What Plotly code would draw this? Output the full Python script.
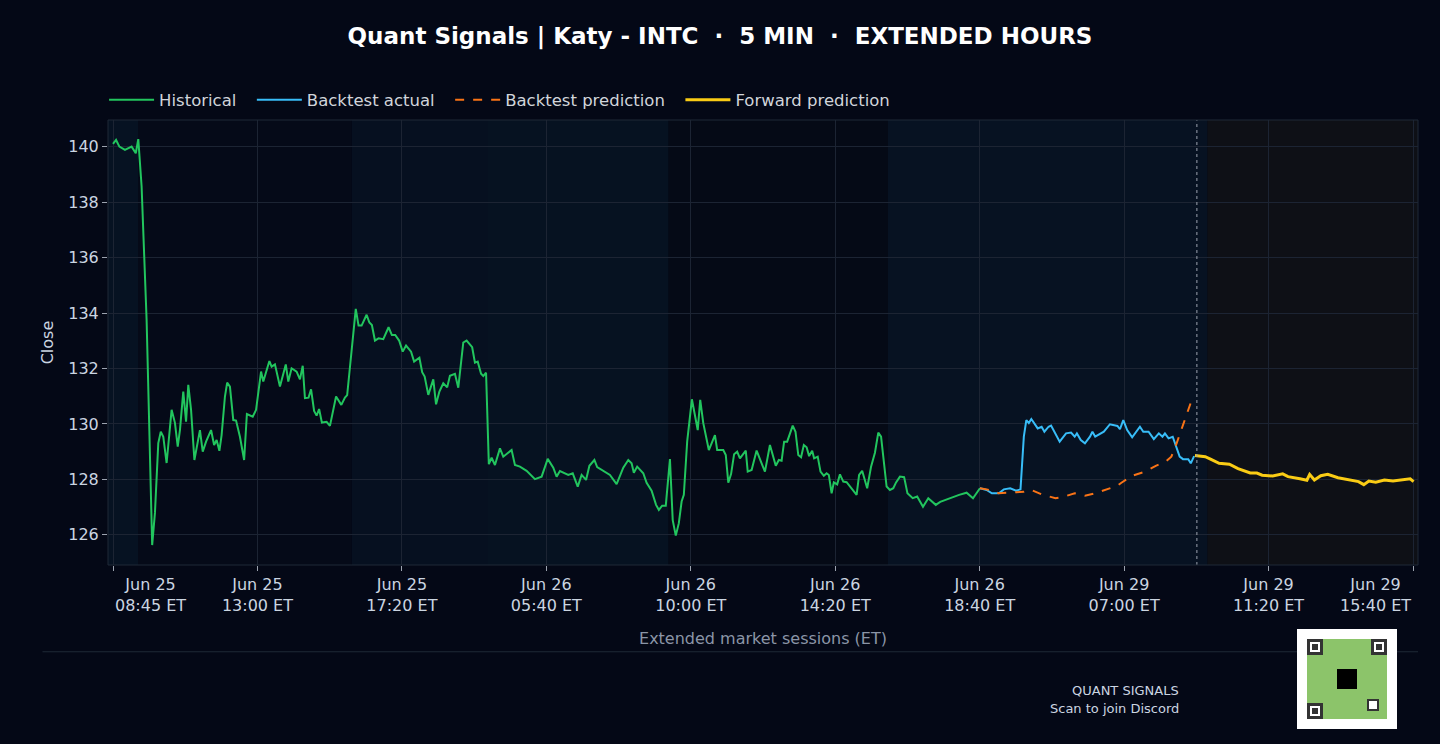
import plotly.graph_objects as go

# ---- data (bar index, close) ----
hist_x = [0,1.1,2.3,4.3,6.7,8.2,9.1,10.3,12.1,14.1,15.1,16.3,17.2,18.1,19.3,21.1,22.3,23.3,24.1,25.3,26.3,27.1,28.1,29.3,31.3,32.3,33.5,35.3,36.4,37.3,38.3,39.1,40.3,41.1,42.1,43.3,44.3,45.7,47.2,48.2,50.3,51.5,53.3,54.1,56.3,57.1,58.3,60.1,62.2,63.1,64.3,66.1,67.3,68.3,69.1,70.4,71.3,72.4,73.3,74.2,75.2,76.9,78.1,80.3,82.2,83.5,84.3,85.9,87.4,88.4,89.5,91.3,92.3,93.2,94.3,95.6,97.3,99.2,100.4,101.6,103.0,104.3,105.5,107.3,108.4,110.3,111.3,112.2,113.5,115.3,116.3,117.5,118.9,120.3,121.3,123.1,124.3,126.1,127.3,129.3,130.3,131.3,132.5,133.3,134.3,135.3,136.3,137.5,139.3,140.5,143.5,144.7,146.5,148.9,151.9,154.3,156.5,158.5,159.7,160.9,163.9,165.5,167.3,168.7,170.3,171.5,173.3,174.3,177.1,178.9,181.3,183.7,185.5,186.7,187.5,188.7,190.9,192.1,193.9,195.5,196.5,197.7,199.0,200.5,201.5,202.6,203.7,204.7,205.5,206.7,208.4,210.5,211.4,212.5,214.5,216.7,217.5,219.7,220.6,221.5,222.5,223.6,224.7,225.7,227.8,228.5,229.9,231.7,233.5,234.7,236.5,238.6,239.7,240.7,241.6,242.7,244.7,245.7,246.7,247.7,248.7,249.7,250.6,251.7,252.4,253.7,254.7,255.9,256.9,257.7,258.7,259.5,260.7,261.7,262.9,264.1,267.7,268.6,269.7,271.5,272.9,274.3,275.5,276.5,278.5,279.7,280.9,281.9,283.3,284.8,286.0,287.9,289.5,291.6,293.5,296.2,297.8,299.6,302.7,304.6,307.3,309.6,312.1]
hist_y = [140.11,140.25,140.01,139.89,140.01,139.77,140.28,138.57,133.75,125.63,126.79,129.31,129.72,129.54,128.59,130.51,130.04,129.18,129.78,131.17,130.08,131.41,130.51,128.70,129.78,129.00,129.36,129.78,129.24,129.42,129.03,129.60,130.99,131.49,131.35,130.14,130.12,129.54,128.70,130.36,130.26,130.51,131.89,131.53,132.27,132.07,132.15,131.35,132.15,131.53,132.01,131.89,131.61,132.10,130.93,130.95,131.25,130.47,130.30,130.54,130.05,130.08,129.93,130.99,130.69,130.95,131.04,132.67,134.15,133.55,133.55,133.94,133.66,133.57,133.01,133.09,133.06,133.49,133.21,133.21,133.01,132.61,132.83,132.61,132.25,132.39,131.87,131.71,131.05,131.61,130.71,131.17,131.47,131.32,131.74,131.81,131.31,132.94,133.01,132.77,132.21,132.25,131.81,131.73,131.85,128.55,128.78,128.52,129.12,128.82,129.06,128.52,128.46,128.31,128.01,128.10,128.74,128.42,128.10,128.30,128.16,128.22,127.74,128.16,127.98,128.49,128.70,128.44,128.28,128.16,127.83,128.42,128.70,128.58,128.24,128.46,128.22,127.88,127.59,127.08,126.90,127.05,127.05,128.73,126.53,125.97,126.42,127.20,127.44,129.36,130.89,129.78,130.87,130.03,129.06,129.60,129.06,129.06,128.88,127.88,128.19,128.91,129.00,128.76,129.04,128.28,128.34,129.04,128.58,128.28,129.24,128.49,128.70,128.67,129.36,129.36,129.94,129.72,128.88,128.80,129.24,129.16,128.84,129.03,128.76,128.82,128.28,128.13,128.22,128.16,127.50,127.89,127.82,128.18,127.92,127.90,127.44,128.16,128.31,127.68,128.46,128.96,129.69,129.54,127.74,127.62,127.68,127.89,128.10,128.08,127.50,127.32,127.38,127.01,127.32,127.08,127.19,127.26,127.38,127.44,127.52,127.32,127.68]

bt_x = [312.1,314.5,316.4,318.9,320.7,323.0,325.1,326.7,327.9,328.8,329.7,330.6,332.9,334.3,335.3,336.8,337.7,339.3,340.8,343.1,344.9,346.2,347.0,348.4,349.9,351.7,352.6,353.6,356.7,358.9,361.6,362.5,363.7,365.1,366.9,369.7,370.9,372.8,374.7,376.5,377.8,378.7,380.0,381.5,382.7,384.0,385.2,387.1,388.0,389.2]
bt_y = [127.68,127.62,127.50,127.50,127.64,127.68,127.59,127.64,129.54,130.14,130.03,130.18,129.84,129.90,129.72,129.90,129.94,129.66,129.36,129.66,129.69,129.54,129.66,129.42,129.30,129.54,129.72,129.54,129.72,129.99,129.93,129.81,130.14,129.78,129.52,129.90,129.72,129.72,129.45,129.66,129.54,129.66,129.48,129.54,129.18,128.82,128.73,128.73,128.58,128.84]

pred_x = [312.1,314.5,318.9,323.7,327.8,330.6,334.3,339.3,342.5,346.2,349.9,353.6,357.4,361.6,362.9,366.9,371.8,375.4,379.1,381.0,382.9,384.1,386.0,387.9]
pred_y = [127.68,127.64,127.50,127.52,127.55,127.62,127.46,127.32,127.38,127.50,127.41,127.50,127.62,127.77,127.87,128.13,128.29,128.49,128.65,128.82,129.30,129.66,130.20,130.74]

fwd_x = [389.5,393.2,395.1,398.2,401.9,405.0,409.4,411.8,413.7,417.5,421.1,423.0,427.3,429.8,430.8,432.5,434.8,437.3,441.0,444.7,448.4,450.3,452.1,454.6,457.7,460.8,463.3,467.0,468.2]
fwd_y = [128.86,128.82,128.73,128.58,128.55,128.39,128.23,128.23,128.15,128.12,128.20,128.10,128.02,127.97,128.18,127.98,128.13,128.18,128.06,127.98,127.92,127.81,127.94,127.90,127.98,127.94,127.98,128.02,127.92]

tick_pos = [0, 52, 104, 156, 208, 260, 312, 364, 416, 468]
tick_labels = ["Jun 25<br>08:45 ET", "Jun 25<br>13:00 ET", "Jun 25<br>17:20 ET", "Jun 26<br>05:40 ET",
               "Jun 26<br>10:00 ET", "Jun 26<br>14:20 ET", "Jun 26<br>18:40 ET", "Jun 29<br>07:00 ET",
               "Jun 29<br>11:20 ET", "Jun 29<br>15:40 ET"]
band_edges = [-1.8, 9, 86, 135, 200, 279, 394, 470]
band_colors = ["#061222", "#050a18", "#061020", "#061221", "#050a16", "#071222", "#0e1016"]
split_idx = 390.2

BG = "#040816"
TICKF = dict(size=16, color="#cbd5e1")
SP = "\u00a0\u00a0"
fig = go.Figure()
fig.add_trace(go.Scatter(x=hist_x, y=hist_y, mode="lines", name="Historical" + SP,
                         line=dict(color="#22c55e", width=2)))
fig.add_trace(go.Scatter(x=bt_x, y=bt_y, mode="lines", name="Backtest actual" + SP,
                         line=dict(color="#38bdf8", width=2)))
fig.add_trace(go.Scatter(x=pred_x, y=pred_y, mode="lines", name="Backtest prediction" + SP,
                         line=dict(color="#f97316", width=2, dash="dash")))
fig.add_trace(go.Scatter(x=fwd_x, y=fwd_y, mode="lines", name="Forward prediction",
                         line=dict(color="#facc15", width=3)))

for i in range(len(band_colors)):
    fig.add_vrect(x0=band_edges[i], x1=band_edges[i+1], fillcolor=band_colors[i],
                  line_width=0, layer="below", opacity=1)
fig.add_vline(x=split_idx, line=dict(color="#9ca3af", width=1, dash="dot"))

shapes = [
    dict(type="line", xref="paper", yref="paper", x0=-0.05, x1=1.0, y0=-0.195, y1=-0.195,
         line=dict(color="#1f2937", width=1)),
    dict(type="rect", xref="paper", yref="paper", x0=0.0, x1=1.0, y0=0, y1=1,
         line=dict(color="#1f2937", width=1)),
]
def px(xp, yp):
    return (xp - 108) / 1310, (565 - yp) / 445
def rect(x0, y0, x1, y1, col):
    a, b = px(x0, y1); c, d = px(x1, y0)
    return dict(type="rect", xref="paper", yref="paper", x0=a, y0=b, x1=c, y1=d,
                fillcolor=col, line_width=0, layer="above")
shapes.append(rect(1297, 629, 1397, 729, "white"))
shapes.append(rect(1307, 639, 1387, 719, "#8cc46a"))
for (fx, fy) in [(1307, 639), (1371, 639), (1307, 703)]:
    shapes.append(rect(fx, fy, fx + 16, fy + 16, "#333333"))
    shapes.append(rect(fx + 3, fy + 3, fx + 13, fy + 13, "white"))
    shapes.append(rect(fx + 5, fy + 5, fx + 11, fy + 11, "#333333"))
shapes.append(rect(1337, 669, 1357, 689, "black"))
shapes.append(rect(1367, 699, 1379, 711, "#333333"))
shapes.append(rect(1369, 701, 1377, 709, "white"))
fig.update_layout(shapes=list(fig.layout.shapes) + shapes)

mid_text = [""] + tick_labels[1:-1] + [""]
fig.update_layout(
    width=1440, height=744, paper_bgcolor=BG, plot_bgcolor=BG,
    margin=dict(l=108, r=22, t=120, b=179),
    font=dict(family="DejaVu Sans", color="#cbd5e1", size=14),
    title=dict(text="<b>Quant Signals | Katy - INTC  ·  5 MIN  ·  EXTENDED HOURS</b>",
               x=0.5, xanchor="center", y=0.952, yanchor="middle",
               font=dict(size=23, color="white")),
    legend=dict(orientation="h", x=-0.003, y=1.045, xanchor="left", yanchor="middle",
                itemwidth=45, bgcolor="rgba(0,0,0,0)", font=dict(size=16.5, color="#d1d5db")),
    xaxis=dict(range=[-1.8, 469.8], tickmode="array", tickvals=tick_pos, ticktext=mid_text,
               showgrid=True, gridcolor="#1c2433", zeroline=False, ticks="outside",
               ticklen=5, tickcolor="#9ca3af", tickfont=TICKF,
               automargin=False,
               title=dict(text="Extended market sessions (ET)", font=dict(size=16, color="#8b95a7"),
                          standoff=18)),
    yaxis=dict(range=[124.91, 140.97], tickvals=[126,128,130,132,134,136,138,140],
               showgrid=True, gridcolor="#1c2433", zeroline=False, ticks="outside",
               ticklen=5, tickcolor="#9ca3af", tickfont=TICKF,
               automargin=False,
               title=dict(text="Close", font=dict(size=16, color="#cbd5e1"), standoff=10)),
)
# edge tick labels aligned inward
fig.add_annotation(x=tick_pos[0], xref="x", yref="paper", y=0, yshift=-8, text=tick_labels[0],
                   showarrow=False, xanchor="left", yanchor="top", align="center", font=TICKF)
fig.add_annotation(x=tick_pos[-1], xref="x", yref="paper", y=0, yshift=-8, text=tick_labels[-1],
                   showarrow=False, xanchor="right", yanchor="top", align="center", font=TICKF)
fig.add_annotation(xref="paper", yref="paper", x=(1181 - 108) / 1310, y=(565 - 690) / 445,
                   text="QUANT SIGNALS", showarrow=False, xanchor="right", yanchor="middle",
                   font=dict(size=13, color="#cbd5e1"))
fig.add_annotation(xref="paper", yref="paper", x=(1181 - 108) / 1310, y=(565 - 708) / 445,
                   text="Scan to join Discord", showarrow=False, xanchor="right", yanchor="middle",
                   font=dict(size=13, color="#cbd5e1"))
fig.write_html("out.html", config={"displayModeBar": False},
               post_script="document.body.style.margin='0';document.body.style.background='#040816';")
